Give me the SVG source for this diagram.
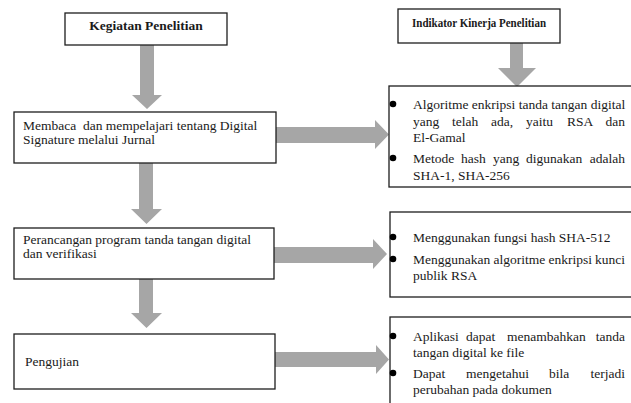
<svg xmlns="http://www.w3.org/2000/svg" width="631" height="403" viewBox="0 0 631 403">
<style>
.box{fill:#fff;stroke:#1e1e1e;stroke-width:1.3}
.arr{fill:#a6a6a6;stroke:none}
text{font-family:'Liberation Serif','DejaVu Serif',serif;font-size:13.5px;fill:#1a1a1a}
.h{font-weight:bold;text-anchor:middle}
.e{text-anchor:end}
.b{fill:#000}
</style>
<rect width="631" height="403" fill="#fff"/>
<g id="connectors">
<polygon class="arr" points="140,45 154,45 154,95 162,95 147,109 132,95 140,95"/>
<polygon class="arr" points="139,163 153,163 153,209 162,209 146.5,224 131,209 139,209"/>
<polygon class="arr" points="139,279 153,279 153,313 162,313 146.5,328 131,313 139,313"/>
<polygon class="arr" points="510,43 523,43 523,68 536,68 517,87 498,68 510,68"/>
<polygon class="arr" points="276,127 375,127 375,120 389,134.5 375,149 375,143 276,143"/>
<polygon class="arr" points="274,247 373,247 373,239 387,254 373,269 373,263 274,263"/>
<polygon class="arr" points="275,352 376,352 376,345 389,359.5 376,374 376,367 275,367"/>
</g>
<g id="kegiatan">
<rect class="box" x="65" y="13" width="162" height="32"/>
<text class="h" x="146" y="30">Kegiatan Penelitian</text>
</g>
<g id="indikator">
<rect class="box" x="398" y="9" width="162" height="34"/>
<text class="h" x="479" y="27" style="font-size:13px" textLength="134" lengthAdjust="spacingAndGlyphs">Indikator Kinerja Penelitian</text>
</g>
<g id="membaca">
<rect class="box" x="14" y="112" width="262" height="51"/>
<text x="23" y="130" xml:space="preserve">Membaca  dan mempelajari tentang Digital</text>
<text x="23" y="144">Signature melalui Jurnal</text>
</g>
<g id="perancangan">
<rect class="box" x="14" y="228" width="260" height="51"/>
<text x="23" y="244">Perancangan program tanda tangan digital</text>
<text x="23" y="258">dan verifikasi</text>
</g>
<g id="pengujian">
<rect class="box" x="14" y="334" width="261" height="55"/>
<text x="25" y="366">Pengujian</text>
</g>
<g id="indikator1">
<rect class="box" x="389" y="86" width="260" height="101"/>
<circle class="b" cx="393" cy="104" r="3.3"/>
<circle class="b" cx="393" cy="158" r="3.3"/>
<text x="413" y="109">Algoritme enkripsi tanda tangan digital</text>
<text y="125.5"><tspan x="413">yang</tspan><tspan x="452">telah</tspan><tspan x="491">ada,</tspan><tspan x="526">yaitu</tspan><tspan x="567">RSA</tspan></text>
<text class="e" x="625" y="125.5">dan</text>
<text x="413" y="142">El-Gamal</text>
<text y="163"><tspan x="413">Metode</tspan><tspan x="461">hash</tspan><tspan x="493">yang</tspan><tspan x="526">digunakan</tspan></text>
<text class="e" x="625" y="163">adalah</text>
<text x="413" y="179.5">SHA-1, SHA-256</text>
</g>
<g id="indikator2">
<rect class="box" x="390" y="212" width="260" height="85"/>
<circle class="b" cx="393" cy="237" r="3.3"/>
<circle class="b" cx="393" cy="259" r="3.3"/>
<text x="413" y="242">Menggunakan fungsi hash SHA-512</text>
<text y="264"><tspan x="413">Menggunakan</tspan><tspan x="493.5">algoritme</tspan><tspan x="548.5">enkripsi</tspan></text>
<text class="e" x="625" y="264">kunci</text>
<text x="413" y="280">publik RSA</text>
</g>
<g id="indikator3">
<rect class="box" x="390" y="317" width="260" height="100"/>
<circle class="b" cx="393" cy="336" r="3.3"/>
<circle class="b" cx="393" cy="373" r="3.3"/>
<text y="341"><tspan x="413">Aplikasi</tspan><tspan x="466">dapat</tspan><tspan x="507">menambahkan</tspan></text>
<text class="e" x="625" y="341">tanda</text>
<text x="413" y="357">tangan digital ke file</text>
<text y="378"><tspan x="413">Dapat</tspan><tspan x="466">mengetahui</tspan><tspan x="549">bila</tspan></text>
<text class="e" x="625" y="378">terjadi</text>
<text x="413" y="394">perubahan pada dokumen</text>
</g>
</svg>
